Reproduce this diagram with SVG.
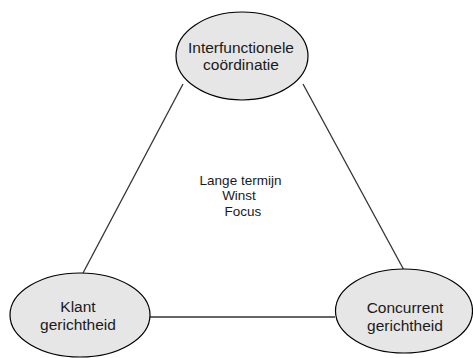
<svg xmlns="http://www.w3.org/2000/svg" width="473" height="358" viewBox="0 0 473 358">
  <style>
    .node ellipse { fill: #e6e6e6; stroke: #000; stroke-width: 1.2; }
    .label { font-family: "Liberation Sans", Arial, sans-serif; font-size: 15.5px; fill: #1a1a1a; text-anchor: middle; }
    .center { font-family: "Liberation Sans", Arial, sans-serif; font-size: 13.5px; fill: #1a1a1a; text-anchor: middle; }
    .edge { stroke: #333; stroke-width: 1.3; fill: none; }
  </style>
  <rect width="473" height="358" fill="#fff"/>

  <!-- connectors forming the triangle -->
  <g id="connectors">
    <line class="edge" x1="183" y1="84" x2="83" y2="273"/>
    <line class="edge" x1="303" y1="84" x2="405" y2="272"/>
    <line class="edge" x1="150" y1="317" x2="335" y2="317"/>
  </g>

  <g id="node-interfunctionele" class="node">
    <ellipse cx="242" cy="56" rx="66" ry="44"/>
    <text class="label" x="241" y="53">Interfunctionele</text>
    <text class="label" x="241" y="70">coördinatie</text>
  </g>

  <g id="node-klant" class="node">
    <ellipse cx="80" cy="315" rx="70" ry="42"/>
    <text class="label" x="78" y="312">Klant</text>
    <text class="label" x="78" y="330">gerichtheid</text>
  </g>

  <g id="node-concurrent" class="node">
    <ellipse cx="404" cy="311" rx="68.5" ry="42"/>
    <text class="label" x="405" y="313">Concurrent</text>
    <text class="label" x="405" y="331">gerichtheid</text>
  </g>

  <g id="center-text">
    <text class="center" x="240.5" y="185">Lange termijn</text>
    <text class="center" x="239" y="200">Winst</text>
    <text class="center" x="243" y="215.5">Focus</text>
  </g>
</svg>
